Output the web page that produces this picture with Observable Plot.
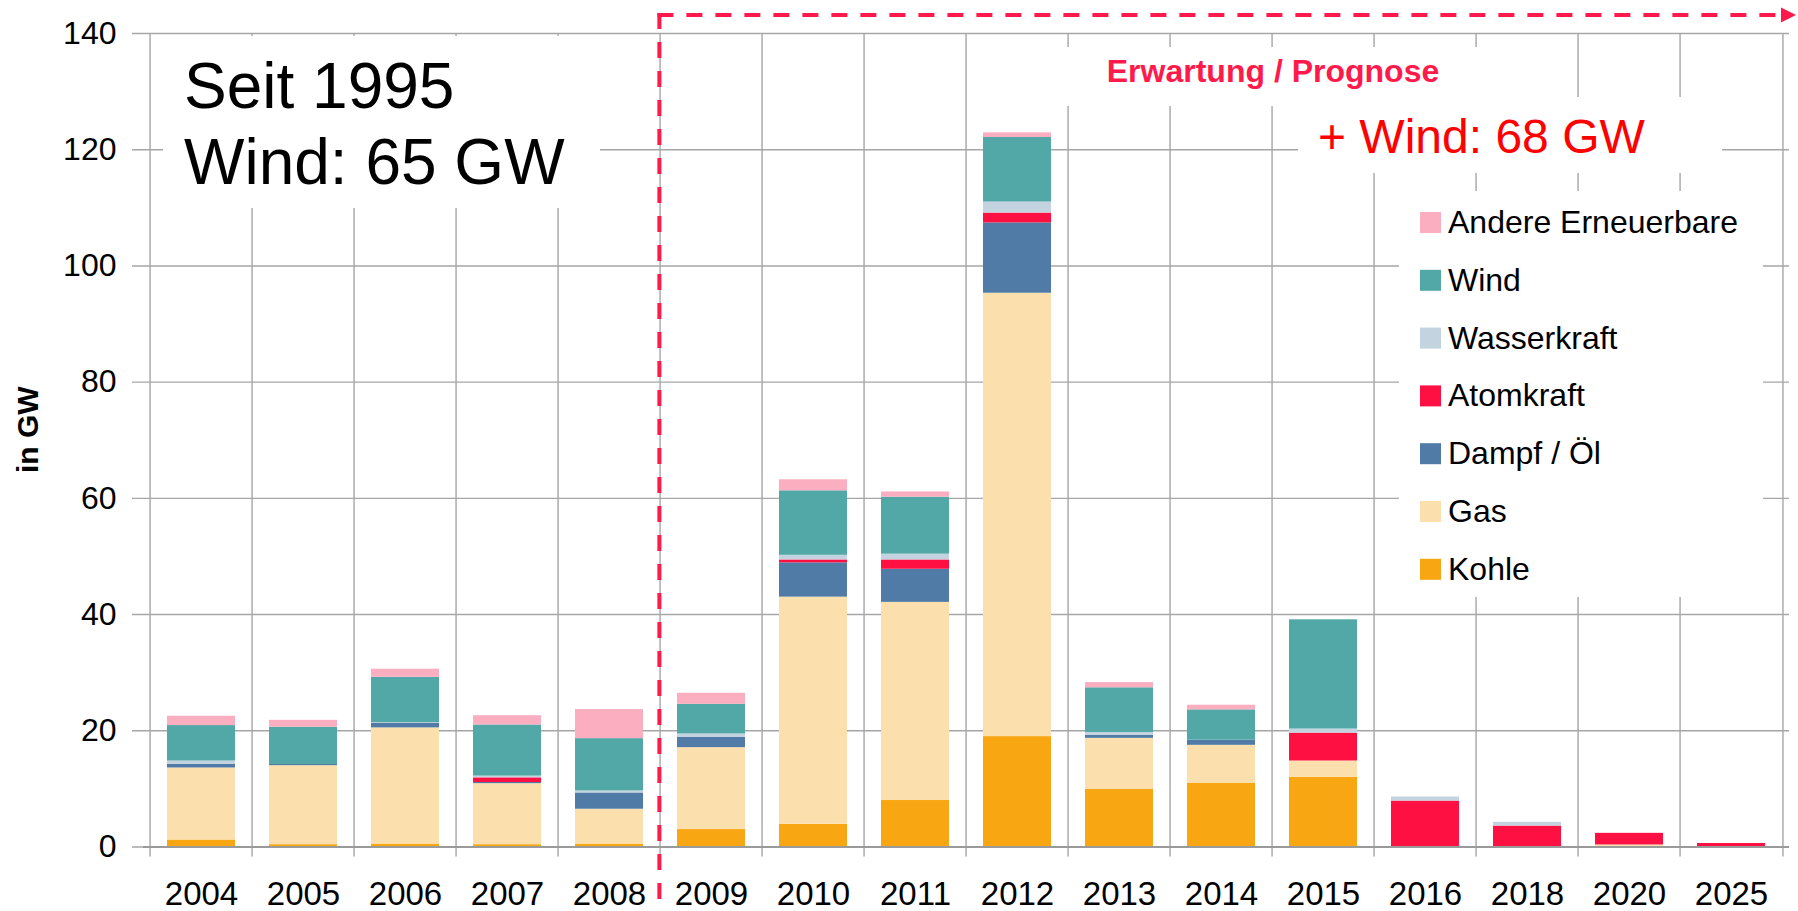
<!DOCTYPE html>
<html>
<head>
<meta charset="utf-8">
<script src="https://cdn.jsdelivr.net/npm/d3@7"></script>
<script src="https://cdn.jsdelivr.net/npm/@observablehq/plot@0.6"></script>
<style>
  html, body { margin: 0; padding: 0; background: #fff; }
  #chart { width: 1798px; height: 911px; }
</style>
</head>
<body>
<div id="chart"></div>
<script>
// ---- data (GW) ----
const years = ["2004","2005","2006","2007","2008","2009","2010","2011","2012","2013","2014","2015","2016","2018","2020","2025"];
const kohle  = [1.2, 0.4, 0.5, 0.4, 0.5, 3.0, 3.9, 8.0, 19.0, 9.9, 11.0, 12.0, 0, 0, 0, 0];
const gas    = [12.4, 13.6, 20.0, 10.5, 6.0, 14.1, 39.1, 34.1, 76.3, 8.8, 6.5, 2.8, 0, 0, 0.35, 0];
const dampf  = [0.6, 0.2, 0.8, 0.2, 2.8, 1.8, 5.9, 5.7, 12.1, 0.5, 0.9, 0, 0, 0, 0, 0];
const atom   = [0, 0, 0, 0.8, 0, 0, 0.5, 1.6, 1.7, 0, 0, 4.8, 7.9, 3.6, 2.0, 0.6];
const wasser = [0.6, 0, 0.1, 0.3, 0.35, 0.55, 0.8, 1.0, 1.9, 0.5, 0, 0.7, 0.7, 0.65, 0, 0];
const wind   = [6.1, 6.4, 7.8, 8.8, 9.0, 5.1, 11.1, 9.8, 11.1, 7.7, 5.2, 18.8, 0, 0, 0, 0];
const andere = [1.6, 1.2, 1.4, 1.6, 5.0, 1.9, 1.9, 0.9, 0.8, 0.9, 0.8, 0, 0, 0, 0, 0];

const seriesNames = ["Kohle", "Gas", "Dampf / Öl", "Atomkraft", "Wasserkraft", "Wind", "Andere Erneuerbare"];
const seriesValues = [kohle, gas, dampf, atom, wasser, wind, andere];
const seriesColors = ["#f9a613", "#fbe0ae", "#4f7ba6", "#fe1043", "#c3d3e0", "#52a8a6", "#fbaec0"];
const yTicks = [0, 20, 40, 60, 80, 100, 120, 140];
const yLabel = "in GW";
const noteLeft = ["Seit 1995", "Wind: 65 GW"];
const noteForecast = "Erwartung / Prognose";
const noteRight = "+ Wind: 68 GW";
const forecastStart = "2009";

const data = seriesNames.flatMap((s, si) =>
  seriesValues[si].map((v, i) => ({year: years[i], series: s, value: v}))
).filter(d => d.value > 0);

const W = 1798, H = 911;
const mL = 143, mR = 9, mT = 33, mB = 64.5;
const step = (W - mL - mR) / years.length;
const grid = "#a6a6a6";
const font = "'Liberation Sans', Arial, sans-serif";

const plot = Plot.plot({
  width: W,
  height: H,
  marginLeft: mL,
  marginRight: mR,
  marginTop: mT,
  marginBottom: mB,
  style: {fontFamily: font, fontSize: "32px", color: "#000", background: "#fff", overflow: "visible"},
  x: {domain: years, paddingInner: 0.33, paddingOuter: 0.165, tickSize: 0, tickPadding: 35, label: null},
  y: {domain: [0, 140], ticks: yTicks, tickSize: 0, tickPadding: 27, label: null},
  color: {domain: seriesNames, range: seriesColors},
  marks: [
    Plot.ruleY(yTicks, {stroke: grid, strokeWidth: 1.4, insetLeft: -11}),
    Plot.ruleX(years, {x: d => d, dx: -step / 2, stroke: grid, strokeWidth: 1.4, insetBottom: -10}),
    Plot.ruleX([years[years.length - 1]], {x: d => d, dx: step / 2, stroke: grid, strokeWidth: 1.4, insetBottom: -10}),
    Plot.barY(data, {x: "year", y: "value", fill: "series"}),
    Plot.ruleY([0], {stroke: "#9a9a9a", strokeWidth: 2}),
    Plot.text([yLabel], {text: d => d, frameAnchor: "left", dx: -115.5, dy: -10.5, rotate: -90,
      fontSize: 30, fontWeight: "bold", textAnchor: "middle", lineAnchor: "middle", fill: "#000"})
  ]
});

// make sure axis labels use the intended size
d3.select(plot).selectAll('g[aria-label^="x-axis"] text')
  .style("font-size", "33px").style("font-family", font).attr("fill", "#000");
d3.select(plot).selectAll('g[aria-label^="y-axis"] text')
  .style("font-size", "32px").style("font-family", font).attr("fill", "#000");

document.getElementById("chart").appendChild(plot);

const svg = d3.select(plot);
const xs = plot.scale("x");
const x0 = xs.range[0], x1 = xs.range[1];
const bx = x0 + xs.domain.indexOf(forecastStart) * (x1 - x0) / xs.domain.length + 2;

const ann = svg.append("g").attr("font-family", font).attr("text-anchor", "start");

// white boxes behind annotations
const boxes = [
  [163, 36, 437, 172],
  [1060, 47, 426, 59],
  [1298, 97, 424, 76],
  [1399, 191, 364, 406]
];
ann.selectAll("rect.box").data(boxes).join("rect").attr("class", "box")
  .attr("x", d => d[0]).attr("y", d => d[1]).attr("width", d => d[2]).attr("height", d => d[3])
  .attr("fill", "#fff");

// left note
ann.selectAll("text.noteL").data(noteLeft).join("text").attr("class", "noteL")
  .attr("x", 184).attr("y", (d, i) => 108 + i * 76).attr("text-anchor", "start")
  .attr("font-size", 64).attr("fill", "#000").text(d => d);

// forecast label
ann.append("text").attr("x", 1273).attr("y", 82).attr("text-anchor", "middle")
  .attr("font-size", 32).attr("font-weight", "bold").attr("fill", "#ff1a4b").text(noteForecast);

// right note
ann.append("text").attr("x", 1318).attr("y", 153).attr("text-anchor", "start")
  .attr("font-size", 48).attr("fill", "#ff0000").text(noteRight);

// legend
const legendOrder = seriesNames.map((s, i) => ({s, c: seriesColors[i]})).reverse();
const lg = ann.append("g");
lg.selectAll("rect").data(legendOrder).join("rect")
  .attr("x", 1420).attr("y", (d, i) => 212 + i * 57.8).attr("width", 21).attr("height", 21)
  .attr("fill", d => d.c);
lg.selectAll("text").data(legendOrder).join("text")
  .attr("x", 1448).attr("y", (d, i) => 233 + i * 57.8).attr("text-anchor", "start")
  .attr("font-size", 32).attr("fill", "#000").text(d => d.s);

// dashed forecast bracket with arrow
const red = "#ff1a4b";
const yTop = 15;
ann.append("line").attr("x1", bx).attr("x2", bx).attr("y1", yTop - 2).attr("y2", 908)
  .attr("stroke", red).attr("stroke-width", 4).attr("stroke-dasharray", "16,13");
ann.append("line").attr("x1", bx - 2).attr("x2", 1782).attr("y1", yTop).attr("y2", yTop)
  .attr("stroke", red).attr("stroke-width", 4).attr("stroke-dasharray", "16,13");
ann.append("path").attr("d", `M1781,${yTop - 7.5}L1796,${yTop}L1781,${yTop + 7.5}Z`).attr("fill", red);
</script>
</body>
</html>
